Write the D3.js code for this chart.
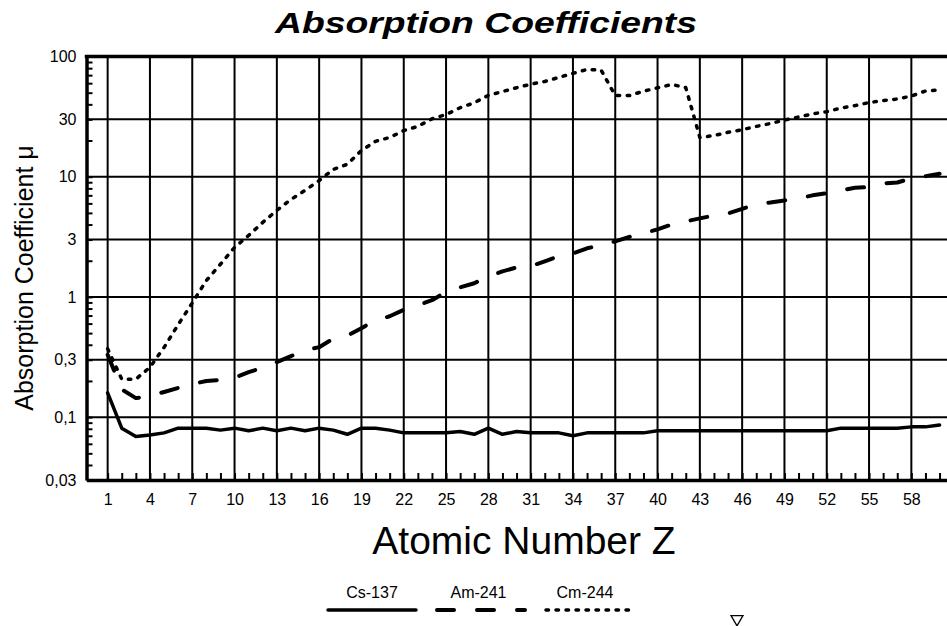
<!DOCTYPE html>
<html>
<head>
<meta charset="utf-8">
<script src="https://d3js.org/d3.v7.min.js"></script>
<style>
  body { margin: 0; background: #fff; }
  svg { display: block; font-family: "Liberation Sans", Arial, sans-serif; }
</style>
</head>
<body>
<svg width="947" height="626"></svg>
<script>

// atomic numbers on the x axis
var atomicNumbers = [1,2,3,4,5,6,7,8,9,10,11,12,13,14,15,16,17,18,19,20,
    21,22,23,24,25,26,27,28,29,30,31,32,33,34,35,36,37,38,39,40,
    41,42,43,44,45,46,47,48,49,50,51,52,53,54,55,56,57,58,59,60];

var xLabelTicks = [1,4,7,10,13,16,19,22,25,28,31,34,37,40,43,46,49,52,55,58];
var yMajorTicks = [0.03,0.1,0.3,1,3,10,30,100];
var yGridTicks = [0.1,0.3,1,3,10,30];
var yMinorTicks = [0.04,0.05,0.06,0.07,0.08,0.09,0.2,0.4,0.5,0.6,0.7,0.8,0.9,
    2,4,5,6,7,8,9,20,40,50,60,70,80,90];

var seriesNames = ["Cs-137", "Am-241", "Cm-244"];

var cs137 = [0.159,0.081,0.069,0.071,0.074,0.081,0.081,0.081,0.078,0.081,
    0.077,0.081,0.077,0.081,0.077,0.081,0.078,0.072,0.081,0.081,
    0.078,0.074,0.074,0.074,0.074,0.076,0.072,0.081,0.072,0.076,
    0.074,0.074,0.074,0.070,0.074,0.074,0.074,0.074,0.074,0.077,
    0.077,0.077,0.077,0.077,0.077,0.077,0.077,0.077,0.077,0.077,
    0.077,0.077,0.081,0.081,0.081,0.081,0.081,0.083,0.083,0.086];

var am241 = [0.33,0.17,0.144,0.15,0.162,0.175,0.188,0.2,0.204,0.213,
    0.237,0.258,0.287,0.322,0.36,0.382,0.45,0.476,0.55,0.64,
    0.69,0.78,0.85,0.94,1.10,1.2,1.3,1.48,1.63,1.76,
    1.8,1.98,2.18,2.3,2.54,2.69,2.9,3.16,3.38,3.65,
    4.0,4.25,4.5,4.76,4.95,5.4,5.9,6.1,6.35,6.6,
    7.0,7.3,7.7,8.1,8.2,8.8,8.95,9.7,10.1,10.6];

var cm244 = [0.37,0.207,0.207,0.26,0.38,0.588,0.89,1.37,1.87,2.58,
    3.25,4.17,5.25,6.47,7.7,9.3,11.5,12.7,16.5,19.7,
    21.2,24.2,26.2,30.3,32.9,37.5,41.2,47.5,51.1,55,
    58.8,62,67,72.4,78,77,47.3,47.3,51.4,54.9,
    58.5,55.2,21.2,22,23.4,24.6,26.2,27.7,29.6,31.4,
    33.3,34.8,37.2,39,41.4,43,44.3,46.9,51.6,52.8];

var svg = d3.select("svg"),
    width = +svg.attr("width"),
    plotLeft = 86.5, plotTop = 56.5, plotBottom = 480;

var x = d3.scaleLinear().domain([-0.5, 61.5]).range([plotLeft, plotLeft + 62 * 14.1]);
var y = d3.scaleLog().domain([0.03, 100]).range([plotBottom, plotTop]);

var fmt = function(d) { return String(d).replace(".", ","); };

// grid
var grid = svg.append("g").attr("stroke", "#000").attr("stroke-width", 2);
grid.selectAll(".hgrid").data(yGridTicks).enter().append("line")
    .attr("x1", plotLeft).attr("x2", width)
    .attr("y1", function(d) { return y(d); })
    .attr("y2", function(d) { return y(d); });
grid.selectAll(".vgrid").data(xLabelTicks).enter().append("line")
    .attr("x1", function(d) { return x(d); })
    .attr("x2", function(d) { return x(d); })
    .attr("y1", plotTop).attr("y2", plotBottom);

// axes
var xAxis = svg.append("g")
    .attr("transform", "translate(0," + plotBottom + ")")
    .call(d3.axisBottom(x).tickValues(atomicNumbers).tickSizeInner(-7).tickSizeOuter(0)
        .tickPadding(14)
        .tickFormat(function(d) { return xLabelTicks.indexOf(d) >= 0 ? d : ""; }));
xAxis.select(".domain").attr("stroke-width", 3.5);
xAxis.selectAll(".tick line").attr("stroke-width", 2);
xAxis.selectAll("text").attr("font-size", 16).attr("fill", "#000")
    .attr("font-family", "Liberation Sans, Arial, sans-serif");

var yAxis = svg.append("g")
    .attr("transform", "translate(" + plotLeft + ",0)")
    .call(d3.axisLeft(y).tickValues(yMinorTicks.concat(yMajorTicks)).tickSizeInner(-6).tickSizeOuter(0)
        .tickPadding(10)
        .tickFormat(function(d) { return yMajorTicks.indexOf(d) >= 0 ? fmt(d) : ""; }));
yAxis.select(".domain").attr("stroke-width", 3.5);
yAxis.selectAll(".tick line").attr("stroke-width", 2);
yAxis.selectAll("text").attr("font-size", 16).attr("fill", "#000")
    .attr("font-family", "Liberation Sans, Arial, sans-serif");

// top border
svg.append("line")
    .attr("x1", plotLeft - 1.75).attr("x2", width)
    .attr("y1", plotTop).attr("y2", plotTop)
    .attr("stroke", "#000").attr("stroke-width", 3.5);

// series
var series = [
    {name: seriesNames[0], values: cs137, width: 3.5, dash: null},
    {name: seriesNames[1], values: am241, width: 4, dash: "17,23"},
    {name: seriesNames[2], values: cm244, width: 3.5, dash: "2.5,7.5"}
];

var line = d3.line()
    .x(function(d, i) { return x(atomicNumbers[i]); })
    .y(function(d) { return y(d); });

svg.selectAll(".series").data(series).enter().append("path")
    .attr("class", "series")
    .attr("d", function(d) { return line(d.values); })
    .attr("fill", "none")
    .attr("stroke", "#000")
    .attr("stroke-width", function(d) { return d.width; })
    .attr("stroke-linecap", "round")
    .attr("stroke-linejoin", "round")
    .attr("stroke-dasharray", function(d) { return d.dash; });

// titles
svg.append("text")
    .attr("x", 486).attr("y", 33)
    .attr("text-anchor", "middle")
    .attr("font-size", 30).attr("font-weight", "bold").attr("font-style", "italic")
    .attr("textLength", 422).attr("lengthAdjust", "spacingAndGlyphs")
    .text("Absorption Coefficients");

svg.append("text")
    .attr("x", 524).attr("y", 554)
    .attr("text-anchor", "middle")
    .attr("font-size", 39)
    .text("Atomic Number Z");

svg.append("text")
    .attr("transform", "translate(33,278) rotate(-90)")
    .attr("text-anchor", "middle")
    .attr("font-size", 25)
    .text("Absorption Coefficient \u03bc");

// legend
var legend = svg.append("g").selectAll("g").data(series).enter().append("g")
    .attr("transform", function(d, i) { return "translate(" + (328 + i * 109) + ",0)"; });
legend.append("line")
    .attr("x1", 0).attr("x2", 88)
    .attr("y1", 610).attr("y2", 610)
    .attr("stroke", "#000")
    .attr("stroke-width", function(d) { return d.width; })
    .attr("stroke-linecap", "round")
    .attr("stroke-dasharray", function(d) { return d.dash; });
legend.append("text")
    .attr("x", function(d, i) { return 44 - i * 2.5; }).attr("y", 598)
    .attr("text-anchor", "middle")
    .attr("font-size", 16)
    .text(function(d) { return d.name; });

svg.append("path")
    .attr("d", d3.symbol(d3.symbolTriangle).size(62)())
    .attr("transform", "translate(737,619) rotate(180)")
    .attr("fill", "#fff").attr("stroke", "#000").attr("stroke-width", 1.3);

</script>
</body>
</html>
